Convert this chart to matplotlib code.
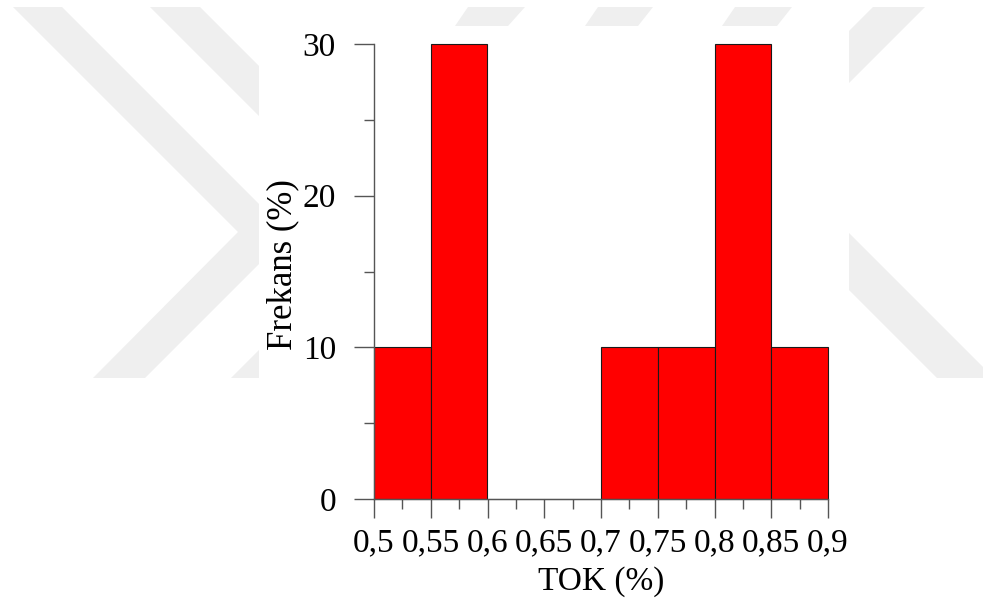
import numpy as np
import matplotlib
matplotlib.use("Agg")
import matplotlib.pyplot as plt
from matplotlib.patches import Polygon, Rectangle
from matplotlib.ticker import MultipleLocator

# histogram data (TOK %, frequency %)
bin_edges = [0.5, 0.55, 0.6, 0.65, 0.7, 0.75, 0.8, 0.85, 0.9]
frequency = [10, 30, 0, 0, 10, 10, 30, 10]
x_tick_labels = ['0,5', '0,55', '0,6', '0,65', '0,7', '0,75', '0,8', '0,85', '0,9']
y_ticks = [0, 10, 20, 30]

plt.rcParams['font.family'] = ['Liberation Serif', 'DejaVu Serif']

W, H = 983, 600
fig = plt.figure(figsize=(W / 100, H / 100), dpi=100)


def px(points):
    # pixel coords (y down) -> figure fraction
    return [(x / W, 1 - y / H) for x, y in points]


# faint background watermark
wm_color = '#efefef'
shapes = [
    [(13, 7), (62, 7), (289, 234), (145, 378), (93, 378), (238, 232)],
    [(150, 7), (200, 7), (427, 234), (283, 378), (231, 378), (376, 233)],
    [(468, 7), (525, 7), (508, 26), (455, 26)],
    [(598, 7), (653, 7), (638, 26), (585, 26)],
    [(735, 7), (792, 7), (777, 26), (722, 26)],
    [(873, 7), (925, 7), (840, 92), (840, 40)],
    [(840, 224), (994, 378), (937, 378), (840, 281)],
]
for s in shapes:
    fig.add_artist(Polygon(px(s), closed=True, facecolor=wm_color,
                           edgecolor='none', transform=fig.transFigure, zorder=-2))
fig.add_artist(Rectangle((259 / W, 0), (849 - 259) / W, 1 - 26 / H,
                         facecolor='white', edgecolor='none',
                         transform=fig.transFigure, zorder=-1))

ax = fig.add_axes([374 / W, 1 - 499 / H, (828 - 374) / W, (499 - 44) / H])
ax.set_zorder(1)
ax.patch.set_visible(False)

edges = np.array(bin_edges)
ax.bar(edges[:-1], frequency, width=np.diff(edges), align='edge',
       color='#ff0000', edgecolor='#1a1a1a', linewidth=0.8, clip_on=False, zorder=2)

ax.set_xlim(0.5, 0.9)
ax.set_ylim(0, 30)

for side in ['top', 'right']:
    ax.spines[side].set_visible(False)
for side in ['left', 'bottom']:
    ax.spines[side].set_color('#555555')
    ax.spines[side].set_linewidth(1.0)

ax.set_xticks(bin_edges)
ax.set_xticklabels(x_tick_labels)
ax.xaxis.set_minor_locator(MultipleLocator(0.025))
ax.set_yticks(y_ticks)
ax.yaxis.set_minor_locator(MultipleLocator(5))

ax.tick_params(axis='x', which='major', direction='out', length=14, width=1.0,
               color='#555555', labelsize=24, pad=7)
ax.tick_params(axis='x', which='minor', direction='out', length=7, width=1.0,
               color='#555555')
ax.tick_params(axis='y', which='major', direction='out', length=14.4, width=1.0,
               color='#555555', labelsize=24, pad=13)
ax.tick_params(axis='y', which='minor', direction='out', length=7.5, width=1.0,
               color='#555555')

ax.set_xlabel('TOK (%)', fontsize=24)
ax.set_ylabel('Frekans (%)', fontsize=25)
ax.xaxis.set_label_coords(0.5, -0.148)
ax.yaxis.set_label_coords(-0.165, 0.515)

fig.savefig('out.png', dpi=100)
